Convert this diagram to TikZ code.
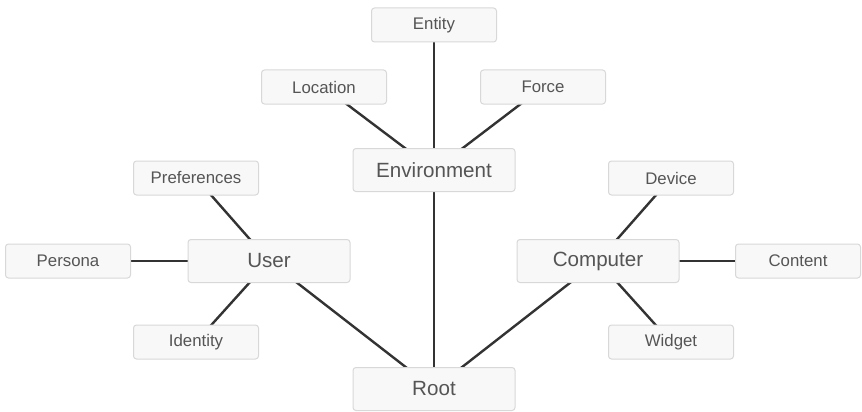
\documentclass[tikz,border=0pt]{standalone}
\usepackage{fontspec}
\setmainfont{Liberation Sans}
\definecolor{boxfill}{HTML}{F8F8F8}
\definecolor{boxline}{HTML}{D8D8D8}
\definecolor{txt}{HTML}{555555}
\definecolor{edge}{HTML}{333333}
\begin{document}
\begin{tikzpicture}[x=1pt,y=-1pt,
  base/.style={draw=boxline,fill=boxfill,rounded corners=3pt,line width=1pt,text=txt,inner sep=0pt,anchor=center},
  small/.style={base,minimum width=125pt,minimum height=34pt,font=\fontsize{16.8}{19}\selectfont},
  big/.style={base,minimum width=162pt,minimum height=43pt,font=\fontsize{20.6}{24}\selectfont},
  conn/.style={draw=edge,line width=2.4pt}]
\useasboundingbox (0,0) rectangle (862,412);
\clip (0,0) rectangle (862,412);
\coordinate (cEnt) at (434,25);
\coordinate (cLoc) at (324,87);
\coordinate (cFor) at (543,87);
\coordinate (cEnv) at (434,170);
\coordinate (cPre) at (196,178);
\coordinate (cDev) at (671,178);
\coordinate (cPer) at (68,261);
\coordinate (cUse) at (269,261);
\coordinate (cCom) at (598,261);
\coordinate (cCon) at (798,261);
\coordinate (cIde) at (196,342);
\coordinate (cWid) at (671,342);
\coordinate (cRoo) at (434,389);
\draw[conn] (cEnv) -- (cEnt);
\draw[conn] (cEnv) -- (cLoc);
\draw[conn] (cEnv) -- (cFor);
\draw[conn] (cRoo) -- (cEnv);
\draw[conn] (cRoo) -- (cUse);
\draw[conn] (cRoo) -- (cCom);
\draw[conn] (cUse) -- (cPre);
\draw[conn] (cUse) -- (cPer);
\draw[conn] (cUse) -- (cIde);
\draw[conn] (cCom) -- (cDev);
\draw[conn] (cCom) -- (cCon);
\draw[conn] (cCom) -- (cWid);
\node[small] (ent) at (cEnt) {Entity};
\node[small] (loc) at (cLoc) {Location};
\node[small] (for) at (cFor) {Force};
\node[big] (env) at (cEnv) {Environment};
\node[small] (pre) at (cPre) {Preferences};
\node[small] (dev) at (cDev) {Device};
\node[small] (per) at (cPer) {Persona};
\node[big] (use) at (cUse) {User};
\node[big] (com) at (cCom) {Computer};
\node[small] (con) at (cCon) {Content};
\node[small] (ide) at (cIde) {Identity};
\node[small] (wid) at (cWid) {Widget};
\node[big] (roo) at (cRoo) {Root};
\end{tikzpicture}
\end{document}
